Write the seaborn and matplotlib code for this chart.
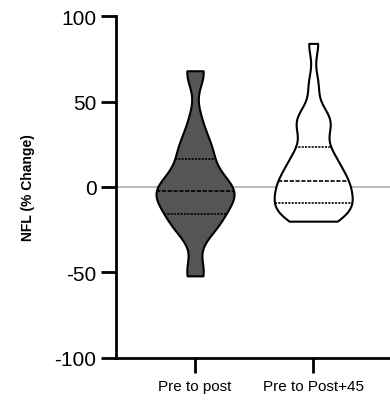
import numpy as np
import pandas as pd
import matplotlib
matplotlib.use("Agg")
import matplotlib.pyplot as plt
import seaborn as sns

categories = ["Pre to post", "Pre to Post+45"]
pre_to_post = [-52, -48, -28, -24, -21, -19, -16, -12, -9, -7, -5, -4, -2.5,
               -1, 1, 3, 6, 10, 16.5, 20, 24, 29, 40, 66, 68]
pre_to_post45 = [-20, -18.5, -16, -14, -12, -10.5, -9.5, -7, -4, -1, 1, 2.5, 3.5,
                 6, 10, 13, 16, 19, 23.5, 33, 37, 40, 43, 60, 84]
yticks = [-100, -50, 0, 50, 100]

df = pd.DataFrame({
    "group": [categories[0]] * len(pre_to_post) + [categories[1]] * len(pre_to_post45),
    "value": pre_to_post + pre_to_post45,
})

sns.set_style("ticks")
plt.rcParams["font.family"] = ["Liberation Sans", "DejaVu Sans"]
plt.rcParams["text.color"] = "black"
plt.rcParams["axes.labelcolor"] = "black"
plt.rcParams["xtick.color"] = "black"
plt.rcParams["ytick.color"] = "black"
plt.rcParams["axes.edgecolor"] = "black"

fig = plt.figure(figsize=(3.9, 4.06), dpi=100)
ax = fig.add_axes([0.297, 0.116, 0.703, 0.842])

ax.axhline(0, color="#b5b5b5", lw=1.3, zorder=0)
sns.violinplot(data=df, x="group", y="value", hue="group", order=categories,
               hue_order=categories,
               palette={categories[0]: "#555555", categories[1]: "white"},
               linecolor="black", linewidth=1.5, inner="quart", cut=0,
               density_norm="width", width=0.66, bw_adjust=0.55,
               legend=False, ax=ax, saturation=1,
               inner_kws={"linewidth": 1.2, "color": "black"})

ax.set_ylim(-100, 100)
ax.set_xlim(-0.67, 1.65)
ax.set_yticks(yticks)
ax.set_yticklabels([str(v) for v in yticks], fontsize=15)
ax.tick_params(axis="y", length=11, width=2, pad=3)
ax.tick_params(axis="x", length=11, width=2, pad=4, labelsize=11)
ax.set_xlabel("")
ax.set_ylabel("NFL (% Change)", fontsize=10, fontweight="bold", labelpad=14)
for s in ["top", "right"]:
    ax.spines[s].set_visible(False)
for s in ["left", "bottom"]:
    ax.spines[s].set_linewidth(2)

fig.savefig("out.png", dpi=100)
